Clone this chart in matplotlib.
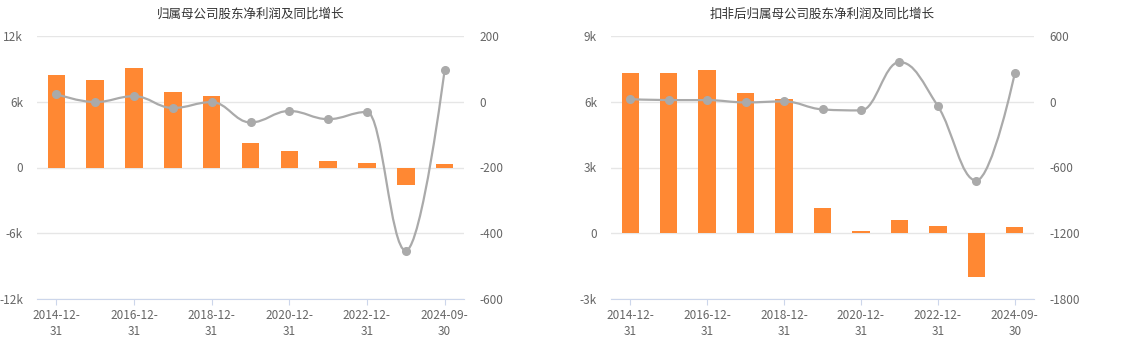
import numpy as np
import matplotlib
matplotlib.use("Agg")
import matplotlib.pyplot as plt
from matplotlib.path import Path
from matplotlib.patches import PathPatch

plt.rcParams['font.family'] = ['Noto Sans CJK SC', 'DejaVu Sans']
plt.rcParams['axes.unicode_minus'] = False

categories = ["2014-12-31", "2015-12-31", "2016-12-31", "2017-12-31", "2018-12-31",
              "2019-12-31", "2020-12-31", "2021-12-31", "2022-12-31", "2023-12-31",
              "2024-09-30"]

# 归属母公司股东净利润 (left) and 同比增长 (%)
profit = [8440, 7980, 9090, 6870, 6490, 2230, 1480, 560, 370, -1580, 280]
profit_yoy = [23, -1, 17, -19, -1, -63, -28, -53, -31, -453, 96]

# 扣非后归属母公司股东净利润 and 同比增长 (%)
profit_ded = [7300, 7300, 7440, 6390, 6110, 1140, 90, 590, 320, -1990, 270]
profit_ded_yoy = [24, 15, 15, -6, 3, -70, -79, 362, -40, -719, 259]

titles = ["归属母公司股东净利润及同比增长", "扣非后归属母公司股东净利润及同比增长"]
left_ticks = [[-12000, -6000, 0, 6000, 12000], [-3000, 0, 3000, 6000, 9000]]
left_labels = [["-12k", "-6k", "0", "6k", "12k"], ["-3k", "0", "3k", "6k", "9k"]]
right_ticks = [[-600, -400, -200, 0, 200], [-1800, -1200, -600, 0, 600]]
right_labels = [["-600", "-400", "-200", "0", "200"], ["-1800", "-1200", "-600", "0", "600"]]

BAR = "#FF8833"
LINE = "#AAAAAA"
TXT = "#666666"
GRID = "#E6E6E6"
AXLINE = "#CCD6EB"

W, H = 1125, 345
fig = plt.figure(figsize=(W / 100, H / 100), dpi=100)


def spline_path(xs, ys, smoothing=1.5):
    """Spline through the points with control points that avoid false extremes."""
    n = len(xs)
    denom = smoothing + 1
    right = [None] * n
    left = [None] * n
    for i in range(n):
        x, y = xs[i], ys[i]
        if 0 < i < n - 1:
            lx, ly = xs[i - 1], ys[i - 1]
            nx, ny = xs[i + 1], ys[i + 1]
            lcx = (smoothing * x + lx) / denom
            lcy = (smoothing * y + ly) / denom
            rcx = (smoothing * x + nx) / denom
            rcy = (smoothing * y + ny) / denom
            corr = 0.0
            if rcx != lcx:
                corr = (rcy - lcy) * (rcx - x) / (rcx - lcx) + y - rcy
            lcy += corr
            rcy += corr
            if lcy > ly and lcy > y:
                lcy = max(ly, y); rcy = 2 * y - lcy
            elif lcy < ly and lcy < y:
                lcy = min(ly, y); rcy = 2 * y - lcy
            if rcy > ny and rcy > y:
                rcy = max(ny, y); lcy = 2 * y - rcy
            elif rcy < ny and rcy < y:
                rcy = min(ny, y); lcy = 2 * y - rcy
            left[i] = (lcx, lcy)
            right[i] = (rcx, rcy)
        else:
            left[i] = (x, y)
            right[i] = (x, y)
    verts = [(xs[0], ys[0])]
    codes = [Path.MOVETO]
    for i in range(1, n):
        verts += [right[i - 1], left[i], (xs[i], ys[i])]
        codes += [Path.CURVE4] * 3
    return Path(verts, codes)


def draw(rect_px, title, bars, yoy, lt, ll, rt, rl):
    x0, x1, y0, y1 = rect_px
    ax = fig.add_axes([x0 / W, (H - y1) / H, (x1 - x0) / W, (y1 - y0) / H])
    ax2 = ax.twinx()
    xs = np.arange(len(categories))
    ax.bar(xs, bars, width=0.45, color=BAR, zorder=2)
    ax.set_xlim(-0.5, len(categories) - 0.5)
    ax.set_ylim(lt[0], lt[-1])
    ax.set_yticks(lt)
    ax.set_yticklabels(ll)
    ax2.set_ylim(rt[0], rt[-1])
    ax2.set_yticks(rt)
    ax2.set_yticklabels(rl)
    ax.grid(axis='y', color=GRID, linewidth=1, zorder=0)
    ax.set_axisbelow(True)
    for a in (ax, ax2):
        for s in a.spines.values():
            s.set_visible(False)
    ax.tick_params(axis='y', length=0, labelsize=8.5, labelcolor=TXT, pad=10)
    ax2.tick_params(axis='y', length=0, labelsize=8.5, labelcolor=TXT, pad=11)
    ax.spines['bottom'].set_visible(True)
    ax.spines['bottom'].set_color(AXLINE)
    ticks_idx = xs[::2]
    ax.set_xticks(ticks_idx)
    ax.set_xticklabels([c[:8] + "\n" + c[8:] for c in np.array(categories)[ticks_idx]],
                       linespacing=1.3)
    ax.tick_params(axis='x', length=4, color=AXLINE, labelsize=8.5, labelcolor=TXT, pad=3)
    ax2.tick_params(axis='x', length=0)
    path = spline_path(xs.astype(float), [float(v) for v in yoy])
    ax2.add_patch(PathPatch(path, facecolor='none', edgecolor=LINE, linewidth=1.6,
                            zorder=3, capstyle='round', joinstyle='round'))
    ax2.plot(xs, yoy, linestyle='none', marker='o', markersize=5.5, color=LINE, zorder=4)
    fig.text((x0 + x1) / 2 / W, 1 - 14 / H, title, ha='center', va='center',
             fontsize=9, color="#333333")


draw((37, 464, 36, 299), titles[0], profit, profit_yoy,
     left_ticks[0], left_labels[0], right_ticks[0], right_labels[0])
draw((611, 1034, 36, 299), titles[1], profit_ded, profit_ded_yoy,
     left_ticks[1], left_labels[1], right_ticks[1], right_labels[1])

fig.savefig("out.png", dpi=100)
